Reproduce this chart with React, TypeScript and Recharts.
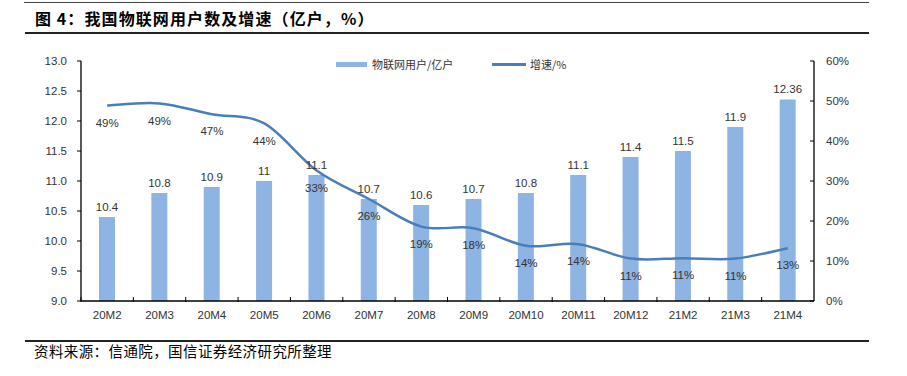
import React from "react";
import { ComposedChart, Bar, Line, XAxis, YAxis, LabelList } from "recharts";

const categories = ["20M2", "20M3", "20M4", "20M5", "20M6", "20M7", "20M8", "20M9", "20M10", "20M11", "20M12", "21M2", "21M3", "21M4"];
const users = [10.4, 10.8, 10.9, 11, 11.1, 10.7, 10.6, 10.7, 10.8, 11.1, 11.4, 11.5, 11.9, 12.36];
const growth = [48.9, 49.4, 46.7, 44.4, 32.6, 25.5, 18.6, 18.2, 13.8, 14.2, 10.6, 10.7, 10.6, 13.2];
const leftTicks = [9, 9.5, 10, 10.5, 11, 11.5, 12, 12.5, 13];
const rightTicks = [0, 10, 20, 30, 40, 50, 60];

const data = categories.map((c, i) => ({ name: c, users: users[i], growth: growth[i] }));

const W = 907;
const H = 376;
const PLOT_LEFT = 81;
const PLOT_RIGHT = 814;
const PLOT_TOP = 61;
const PLOT_BOTTOM = 301;
const LEFT_AXIS_W = 50;
const RIGHT_AXIS_W = 50;
const X_AXIS_H = 30;
const HALF_BAND = (PLOT_RIGHT - PLOT_LEFT) / categories.length / 2;

const FONT = "'Liberation Sans', Arial, sans-serif";
const CJK = "'Noto Sans CJK SC', sans-serif";
const TEXT = "#333";
const BAR = "#8DB4E2";
const LINE = "#4A7EBB";

// Excel-like smooth curve (Catmull-Rom via cubic Bezier)
function excelSmooth(context: any) {
  let pts: number[][] = [];
  return {
    areaStart() {},
    areaEnd() {},
    lineStart() {
      pts = [];
    },
    point(x: number, y: number) {
      pts.push([+x, +y]);
    },
    lineEnd() {
      if (!pts.length) return;
      context.moveTo(pts[0][0], pts[0][1]);
      for (let i = 0; i < pts.length - 1; i++) {
        const p0 = pts[i - 1] || pts[i];
        const p1 = pts[i];
        const p2 = pts[i + 1];
        const p3 = pts[i + 2] || pts[i + 1];
        context.bezierCurveTo(
          p1[0] + (p2[0] - p0[0]) / 6,
          p1[1] + (p2[1] - p0[1]) / 6,
          p2[0] - (p3[0] - p1[0]) / 6,
          p2[1] - (p3[1] - p1[1]) / 6,
          p2[0],
          p2[1]
        );
      }
    },
  };
}

const XTick = (props: any) => {
  const { x, y, payload } = props;
  const margin = 8;
  const axisY = y - margin;
  const half = payload && typeof payload.offset === "number" && payload.offset > 0 ? payload.offset : HALF_BAND;
  const bx = x - half;
  return (
    <g>
      <line x1={bx} x2={bx} y1={axisY - 4} y2={axisY + 1} stroke="#000" strokeWidth={1} />
      <text x={x} y={axisY + 14} textAnchor="middle" dominantBaseline="central" fill={TEXT} fontSize={11.5} fontFamily={FONT}>
        {payload.value}
      </text>
    </g>
  );
};

const RightTick = (props: any) => {
  const { x, y, payload } = props;
  const margin = 12;
  const ax = x - margin;
  return (
    <g>
      <line x1={ax - 4} x2={ax} y1={y} y2={y} stroke="#000" strokeWidth={1} />
      <text x={x} y={y} textAnchor="start" dominantBaseline="central" fill={TEXT} fontSize={11.5} fontFamily={FONT}>
        {payload.value + "%"}
      </text>
    </g>
  );
};

export default function App() {
  return (
    <div style={{ position: "absolute", left: 0, top: 0, width: W, height: H, background: "#fff" }}>
      {/* title */}
      <div style={{ position: "absolute", left: 24, top: 2, width: 845, height: 0, borderTop: "1.5px solid #444" }} />
      <div
        style={{
          position: "absolute",
          left: 35,
          top: 7,
          fontFamily: CJK,
          fontWeight: 700,
          fontSize: 16,
          letterSpacing: 1.1,
          lineHeight: "22px",
          color: "#000",
          whiteSpace: "nowrap",
        }}
      >
        图 4：我国物联网用户数及增速（亿户，%）
      </div>
      <div style={{ position: "absolute", left: 25, top: 32, width: 844, height: 0, borderTop: "2px solid #222" }} />

      {/* legend */}
      <div style={{ position: "absolute", left: 336, top: 62, width: 31, height: 5, background: BAR }} />
      <div style={{ position: "absolute", left: 372, top: 56, fontFamily: CJK, fontSize: 11, lineHeight: "16px", color: TEXT, whiteSpace: "nowrap" }}>
        物联网用户/亿户
      </div>
      <div style={{ position: "absolute", left: 492, top: 63, width: 34, height: 2.5, background: LINE }} />
      <div style={{ position: "absolute", left: 530, top: 56, fontFamily: CJK, fontSize: 11, lineHeight: "16px", color: TEXT, whiteSpace: "nowrap" }}>
        增速/%
      </div>

      <div style={{ position: "absolute", left: 0, top: 0 }}>
        <ComposedChart
          width={W}
          height={H}
          data={data}
          margin={{
            top: PLOT_TOP,
            bottom: H - PLOT_BOTTOM - X_AXIS_H,
            left: PLOT_LEFT - LEFT_AXIS_W,
            right: W - PLOT_RIGHT - RIGHT_AXIS_W,
          }}
        >
          <XAxis
            dataKey="name"
            height={X_AXIS_H}
            tickSize={0}
            tickMargin={8}
            interval={0}
            axisLine={{ stroke: "#000", strokeWidth: 1.3 }}
            tick={<XTick />}
          />
          <YAxis
            yAxisId="left"
            orientation="left"
            width={LEFT_AXIS_W}
            domain={[9, 13]}
            ticks={leftTicks}
            interval={0}
            tickFormatter={(v: number) => v.toFixed(1)}
            tickSize={4}
            tickMargin={10}
            axisLine={{ stroke: "#000", strokeWidth: 1.3 }}
            tickLine={{ stroke: "#000" }}
            tick={{ fill: TEXT, fontSize: 11.5, fontFamily: FONT }}
            allowDataOverflow
          />
          <YAxis
            yAxisId="right"
            orientation="right"
            width={RIGHT_AXIS_W}
            domain={[0, 60]}
            ticks={rightTicks}
            interval={0}
            tickSize={0}
            tickMargin={12}
            axisLine={{ stroke: "#000", strokeWidth: 1.3 }}
            tick={<RightTick />}
          />
          <Bar yAxisId="left" dataKey="users" fill={BAR} barSize={16} isAnimationActive={false}>
            <LabelList
              dataKey="users"
              position="top"
              offset={6}
              fill={TEXT}
              fontSize={11.5}
              fontFamily={FONT}
              formatter={(v: any) => String(v)}
            />
          </Bar>
          <Line
            yAxisId="right"
            dataKey="growth"
            type={excelSmooth as any}
            stroke={LINE}
            strokeWidth={2.5}
            dot={false}
            activeDot={false}
            isAnimationActive={false}
          >
            <LabelList
              dataKey="growth"
              position="bottom"
              offset={13}
              fill={TEXT}
              fontSize={11.5}
              fontFamily={FONT}
              formatter={(v: any) => Math.round(Number(v)) + "%"}
            />
          </Line>
        </ComposedChart>
      </div>

      {/* footer */}
      <div style={{ position: "absolute", left: 25, top: 340, width: 844, height: 0, borderTop: "2px solid #222" }} />
      <div
        style={{
          position: "absolute",
          left: 34,
          top: 342,
          fontFamily: CJK,
          fontSize: 14.5,
          letterSpacing: 0.4,
          lineHeight: "18px",
          color: "#000",
          whiteSpace: "nowrap",
        }}
      >
        资料来源：信通院，国信证券经济研究所整理
      </div>
    </div>
  );
}
